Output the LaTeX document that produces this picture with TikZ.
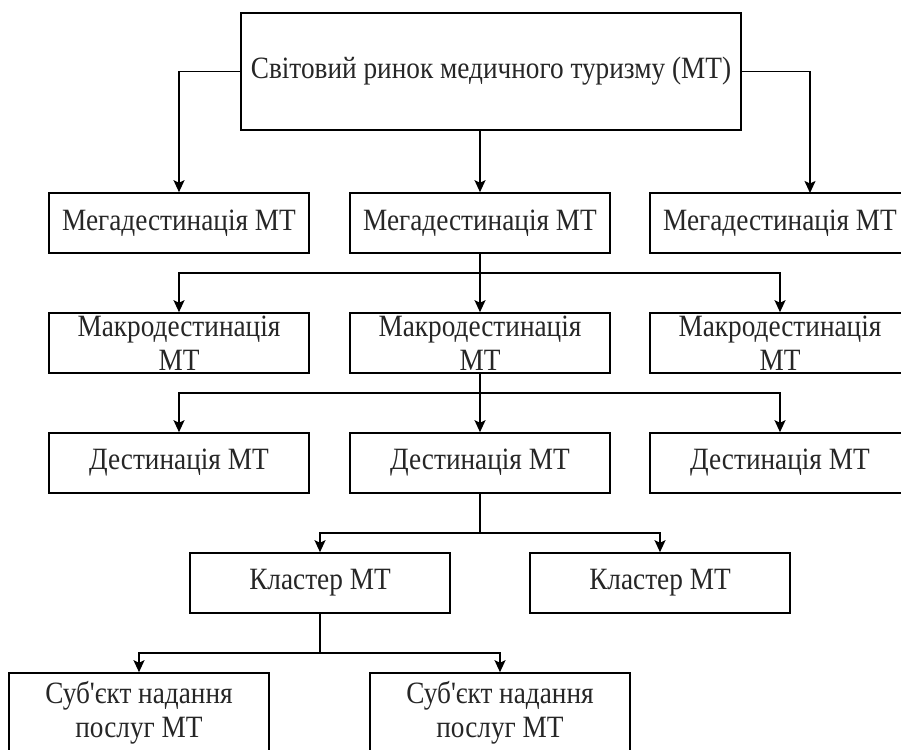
\documentclass[tikz,border=0pt]{standalone}
\usepackage{fontspec}
\setmainfont[FakeStretch=0.88,Ligatures=TeXOff]{Liberation Serif}
\usetikzlibrary{arrows.meta}
\begin{document}
\begin{tikzpicture}[x=1pt,y=-1pt,
  box/.style={draw=black, line width=1.6pt, fill=white, inner sep=0pt, minimum width=260pt, minimum height=60pt},
  txt/.style={font=\fontsize{31}{34}\selectfont, align=center, inner sep=0pt, text=black!85},
  wire/.style={draw=black, line width=1.6pt},
  conn/.style={wire, -{Stealth[length=12pt,width=11pt,inset=2.5pt]}}
]
\useasboundingbox (0,0) rectangle (901,749);
\clip (0,0) rectangle (901,749);
% nodes
\node[box, minimum width=500pt, minimum height=117pt, label={[txt]center:Світовий ринок медичного туризму (МТ)}] (top) at (491,71.5) {};
\node[box, label={[txt]center:Мегадестинація МТ}] (g1) at (179,223) {};
\node[box, label={[txt]center:Мегадестинація МТ}] (g2) at (480,223) {};
\node[box, label={[txt]center:Мегадестинація МТ}] (g3) at (780,223) {};
\node[box, label={[txt]center:Макродестинація\\МТ}] (m1) at (179,343) {};
\node[box, label={[txt]center:Макродестинація\\МТ}] (m2) at (480,343) {};
\node[box, label={[txt]center:Макродестинація\\МТ}] (m3) at (780,343) {};
\node[box, label={[txt]center:Дестинація МТ}] (d1) at (179,463) {};
\node[box, label={[txt]center:Дестинація МТ}] (d2) at (480,463) {};
\node[box, label={[txt]center:Дестинація МТ}] (d3) at (780,463) {};
\node[box, label={[txt]center:Кластер МТ}] (k1) at (320,583) {};
\node[box, label={[txt]center:Кластер МТ}] (k2) at (660,583) {};
\node[box, minimum height=80pt, label={[txt]center:Суб'єкт надання\\послуг МТ}] (s1) at (139,713) {};
\node[box, minimum height=80pt, label={[txt]center:Суб'єкт надання\\послуг МТ}] (s2) at (500,713) {};
% junctions
\coordinate (j1) at (480,273);
\coordinate (j2) at (480,393);
\coordinate (j3) at (480,533);
\coordinate (j4) at (320,653);
\coordinate (g3in) at (810,193);
% connectors
\draw[conn] (top.west) -| (g1.north);
\draw[conn] (g2.north |- top.south) -- (g2.north);
\draw[conn] (top.east) -| (g3in);
\draw[wire] (g2.south) -- (j1);
\draw[conn] (j1) -| (m1.north);
\draw[conn] (j1) -- (m2.north);
\draw[conn] (j1) -| (m3.north);
\draw[wire] (m2.south) -- (j2);
\draw[conn] (j2) -| (d1.north);
\draw[conn] (j2) -- (d2.north);
\draw[conn] (j2) -| (d3.north);
\draw[wire] (d2.south) -- (j3);
\draw[conn] (j3) -| (k1.north);
\draw[conn] (j3) -| (k2.north);
\draw[wire] (k1.south) -- (j4);
\draw[conn] (j4) -| (s1.north);
\draw[conn] (j4) -| (s2.north);
\end{tikzpicture}
\end{document}
